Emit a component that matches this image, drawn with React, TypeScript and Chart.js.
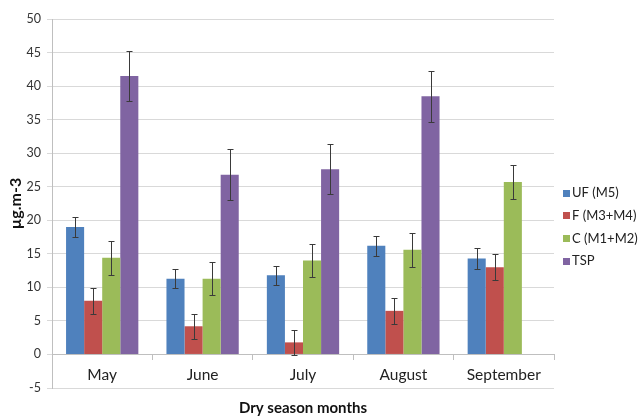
import React, { useEffect, useRef } from "react";
import { Chart, registerables } from "chart.js";

Chart.register(...registerables);

const months = ["May", "June", "July", "August", "September"];
const seriesNames = ["UF (M5)", "F (M3+M4)", "C (M1+M2)", "TSP"];
const ufValues = [19.0, 11.3, 11.8, 16.2, 14.3];
const ufErrors = [1.45, 1.45, 1.45, 1.5, 1.5];
const fValues = [8.0, 4.2, 1.8, 6.5, 13.0];
const fErrors = [1.9, 1.9, 1.9, 1.9, 1.9];
const cValues = [14.4, 11.3, 14.0, 15.6, 25.7];
const cErrors = [2.5, 2.45, 2.5, 2.5, 2.5];
const tspValues = [41.5, 26.8, 27.6, 38.5, null];
const tspErrors = [3.75, 3.75, 3.75, 3.8, null];
const colors = ["#4F81BD", "#C0504D", "#9BBB59", "#8064A2"];

const FONT = "Lato, 'Open Sans', sans-serif";

const errorBarPlugin = {
  id: "errorBars",
  afterDatasetsDraw(chart: any) {
    const ctx = chart.ctx;
    const yScale = chart.scales.y;
    ctx.save();
    ctx.strokeStyle = "#3a3a3a";
    ctx.lineWidth = 1;
    chart.data.datasets.forEach((ds: any, di: number) => {
      const meta = chart.getDatasetMeta(di);
      const errs = ds.errors || [];
      meta.data.forEach((bar: any, i: number) => {
        const v = ds.data[i];
        const e = errs[i];
        if (v == null || e == null) return;
        const x = Math.round(bar.x) + 0.5;
        const yTop = Math.round(yScale.getPixelForValue(v + e)) + 0.5;
        const yBot = Math.round(yScale.getPixelForValue(v - e)) + 0.5;
        ctx.beginPath();
        ctx.moveTo(x, yTop);
        ctx.lineTo(x, yBot);
        ctx.moveTo(x - 3, yTop);
        ctx.lineTo(x + 3, yTop);
        ctx.moveTo(x - 3, yBot);
        ctx.lineTo(x + 3, yBot);
        ctx.stroke();
      });
    });
    ctx.restore();
  },
};

const legendPlugin = {
  id: "customLegend",
  afterDraw(chart: any) {
    const ctx = chart.ctx;
    ctx.save();
    ctx.font = `13px ${FONT}`;
    ctx.textBaseline = "middle";
    ctx.textAlign = "left";
    chart.data.datasets.forEach((ds: any, i: number) => {
      const cy = 193 + i * 22.7;
      ctx.fillStyle = ds.backgroundColor;
      ctx.fillRect(563, Math.round(cy - 3.5), 7, 7);
      ctx.fillStyle = "#222";
      ctx.fillText(ds.label, 572, cy);
    });
    ctx.restore();
  },
};

export default function App() {
  const ref = useRef<HTMLCanvasElement>(null);
  useEffect(() => {
    if (!ref.current) return;
    const valueSets = [ufValues, fValues, cValues, tspValues];
    const errorSets = [ufErrors, fErrors, cErrors, tspErrors];
    const chart = new Chart(ref.current, {
      type: "bar",
      data: {
        labels: months,
        datasets: seriesNames.map((name, i) => ({
          label: name,
          data: valueSets[i] as any,
          errors: errorSets[i],
          backgroundColor: colors[i],
          borderWidth: 0,
          categoryPercentage: 0.72,
          barPercentage: 1,
        })) as any,
      },
      options: {
        animation: false,
        responsive: false,
        devicePixelRatio: 1,
        layout: { padding: { top: 19, right: 88, bottom: 0, left: 0 } },
        plugins: {
          legend: { display: false },
          tooltip: { enabled: false },
        },
        scales: {
          x: {
            type: "category",
            position: "bottom",
            offset: true,
            grid: { display: false },
            border: { display: false },
            ticks: { display: false },
            title: {
              display: true,
              text: "Dry season months",
              color: "#111",
              font: { family: FONT, size: 15, weight: "bold" },
              padding: { top: 3, bottom: 0 },
            },
          },
          x2: {
            type: "category",
            position: { y: 0 } as any,
            offset: true,
            grid: {
              offset: true,
              drawOnChartArea: false,
              drawTicks: true,
              tickLength: 5,
              color: "#BFBFBF",
            },
            border: { display: true, color: "#BFBFBF" },
            ticks: {
              color: "#222",
              font: { family: FONT, size: 15.5 },
              padding: 6,
            },
          },
          y: {
            min: -5,
            max: 50,
            ticks: {
              stepSize: 5,
              color: "#333",
              font: { family: FONT, size: 12.5 },
              padding: 6,
            },
            grid: { color: "#D9D9D9", tickLength: 5, drawTicks: true },
            border: { display: true, color: "#BFBFBF" },
            title: {
              display: true,
              text: "µg.m-3",
              color: "#111",
              font: { family: FONT, size: 16, weight: "bold" },
              padding: { top: 6, bottom: 0 },
            },
            afterFit: (scale: any) => {
              scale.width = 52;
            },
          },
        },
      } as any,
      plugins: [errorBarPlugin, legendPlugin],
    });
    return () => chart.destroy();
  }, []);
  return (
    <div style={{ position: "fixed", left: 0, top: 0, width: 642, height: 417, background: "#fff" }}>
      <canvas ref={ref} width={642} height={417} />
    </div>
  );
}
